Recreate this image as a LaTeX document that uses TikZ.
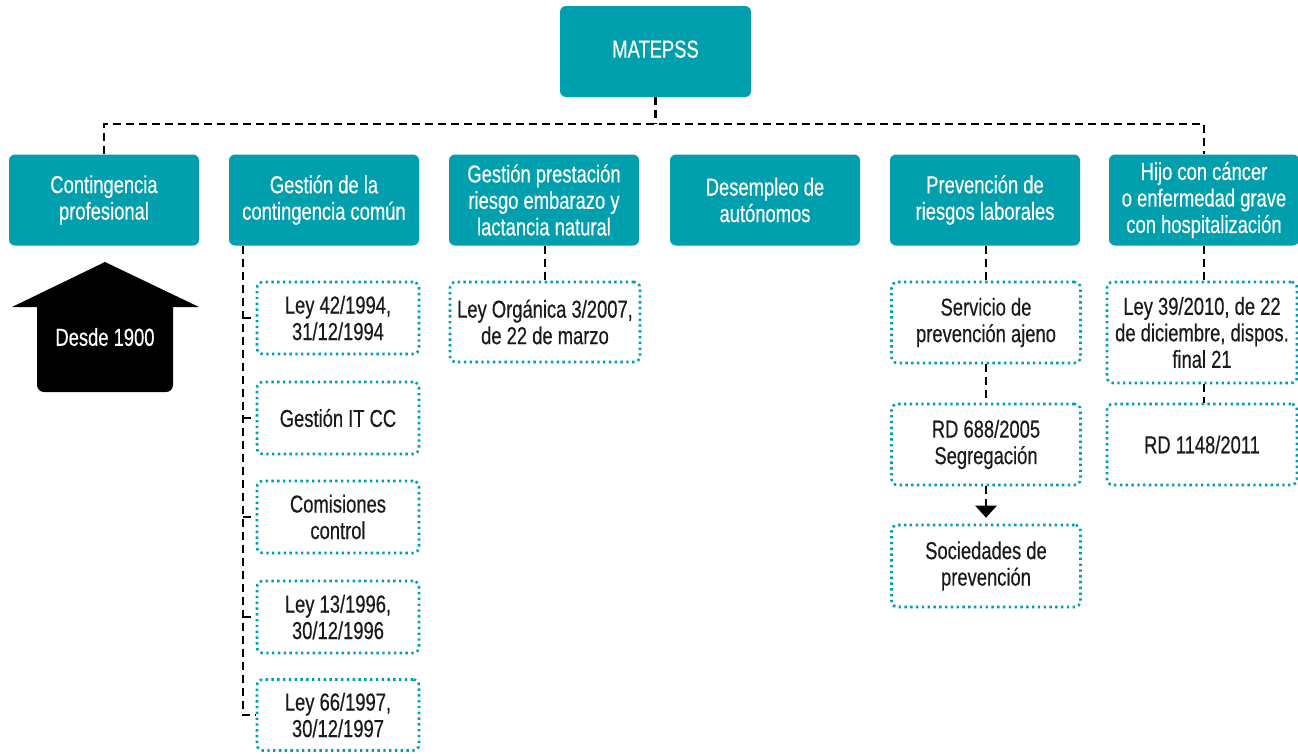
\documentclass[tikz,border=0pt]{standalone}
\usepackage{fontspec}
\newfontfamily\cnd{Liberation Sans}[FakeStretch=0.75,FakeBold=0.4]
\usetikzlibrary{arrows.meta}
\definecolor{teal0}{HTML}{009FAE}
\definecolor{ink}{HTML}{1A1A1A}
\begin{document}
\begin{tikzpicture}[x=1pt,y=-1pt,
  txtfont/.style={font=\cnd\fontsize{24.5}{26.5}\selectfont},
  tealbox/.style={txtfont, fill=teal0, rounded corners=6pt, text=white, align=center,
    minimum width=190pt, minimum height=91pt, inner sep=0pt},
  dotbox/.style={txtfont, draw=teal0, line width=2.6pt, dash pattern=on 2.4pt off 3.4pt,
    rounded corners=6pt, text=ink, align=center, inner sep=0pt},
  dashline/.style={draw=black, line width=2.8pt, dash pattern=on 8pt off 5pt}]
\useasboundingbox (0,0) rectangle (1298,753);

% top level
\node[tealbox, minimum width=191pt] (m) at (655.5,51.5) {\raisebox{5pt}{MATEPSS}};

% second level
\node[tealbox] (c1) at (104,200) {Contingencia\\profesional};
\node[tealbox] (c2) at (324,200) {Gestión de la\\contingencia común};
\node[tealbox] (c3) at (544,200) {Gestión prestación\\riesgo embarazo y\\lactancia natural};
\node[tealbox] (c4) at (765,200) {Desempleo de\\autónomos};
\node[tealbox] (c5) at (985,200) {Prevención de\\riesgos laborales};
\node[tealbox] (c6) at (1204,200) {Hijo con cáncer\\o enfermedad grave\\con hospitalización};

% bus from the top box
\coordinate (bus) at (655,124);
\draw[dashline] (m.south) -- (m.south |- bus);
\draw[dashline] (c1.north) -- (c1.north |- bus) -- (c6.north |- bus) -- (c6.north);

% "Desde 1900" arrow under the first box
\fill[black] (105,262) -- (199,307) -- (12,307) -- cycle;
\fill[black, rounded corners=7pt] (37,298) rectangle (173,392);
\node[txtfont, text=white] (desde) at (105,337) {Desde 1900};

% common contingency laws
\node[dotbox, minimum width=162pt, minimum height=72pt] (g1) at (338,318) {Ley 42/1994,\\31/12/1994};
\node[dotbox, minimum width=162pt, minimum height=72pt] (g2) at (338,418) {Gestión IT CC};
\node[dotbox, minimum width=162pt, minimum height=72pt] (g3) at (338,517) {Comisiones\\control};
\node[dotbox, minimum width=162pt, minimum height=72pt] (g4) at (338,617) {Ley 13/1996,\\30/12/1996};
\node[dotbox, minimum width=162pt, minimum height=71pt] (g5) at (338,715) {Ley 66/1997,\\30/12/1997};
\coordinate (spine) at (243,246);
\draw[dashline] (spine |- c2.south) -- (spine |- g5.west) -- (g5.west);
\foreach \g in {g1,g2,g3,g4}
  \draw[dashline] (spine |- \g.west) -- (\g.west);

% pregnancy risk
\node[dotbox, minimum width=190pt, minimum height=80pt] (l3) at (545,322) {Ley Orgánica 3/2007,\\de 22 de marzo};
\draw[dashline] (l3.north |- c3.south) -- (l3.north);

% occupational risk prevention
\node[dotbox, minimum width=189pt, minimum height=81pt] (p1) at (986,322.5) {Servicio de\\prevención ajeno};
\node[dotbox, minimum width=189pt, minimum height=81pt] (p2) at (986,444.5) {RD 688/2005\\Segregación};
\node[dotbox, minimum width=189pt, minimum height=82pt] (p3) at (986,566) {Sociedades de\\prevención};
\draw[dashline] (p1.north |- c5.south) -- (p1.north);
\draw[dashline] (p1.south) -- (p2.north);
\draw[dashline, -{Triangle[width=21pt,length=12pt]}, shorten >=6pt] (p2.south) -- (p3.north);

% child with serious illness
\node[dotbox, minimum width=190pt, minimum height=101pt] (h1) at (1202,332.5) {Ley 39/2010, de 22\\de diciembre, dispos.\\final 21};
\node[dotbox, minimum width=190pt, minimum height=81pt] (h2) at (1202,444.5) {RD 1148/2011};
\draw[dashline] (c6.south) -- (c6.south |- h1.north);
\draw[dashline] (c6.south |- h1.south) -- (c6.south |- h2.north);
\end{tikzpicture}
\end{document}
